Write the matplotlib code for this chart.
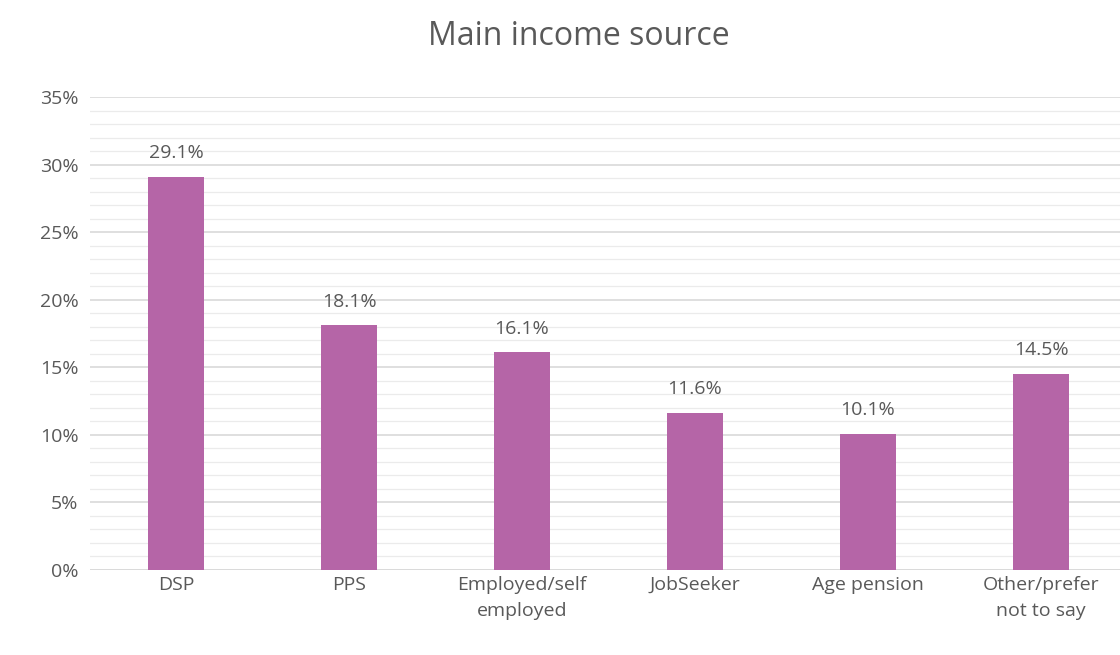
import numpy as np
import matplotlib.pyplot as plt
from matplotlib.ticker import MultipleLocator, FuncFormatter

categorias = ["DSP", "PPS", "Employed/self\nemployed", "JobSeeker", "Age pension", "Other/prefer\nnot to say"]
valores = [29.1, 18.1, 16.1, 11.6, 10.1, 14.5]

plt.rcParams['font.family'] = ['Open Sans', 'DejaVu Sans']
gris = '#595959'

fig = plt.figure(figsize=(11.2, 6.55), dpi=100)
ax = fig.add_axes([89.5 / 1120, 85 / 655, 1038 / 1120, 473 / 655])

x = np.arange(len(categorias))
ax.bar(x, valores, width=0.32, color='#B565A7', zorder=3)
for xi, v in zip(x, valores):
    ax.text(xi, v + 1.1, f"{v:.1f}%", ha='center', va='bottom', fontsize=14, color=gris)

ax.set_xlim(-0.5, len(categorias) - 0.5)
ax.set_ylim(0, 35)
ax.yaxis.set_major_locator(MultipleLocator(5))
ax.yaxis.set_minor_locator(MultipleLocator(1))
ax.yaxis.set_major_formatter(FuncFormatter(lambda v, p: f"{v:.0f}%"))
ax.grid(axis='y', which='major', color='#D9D9D9', linewidth=1.2, zorder=0)
ax.grid(axis='y', which='minor', color='#EBEBEB', linewidth=0.9, zorder=0)

ax.set_xticks(x)
ax.set_xticklabels(categorias, fontsize=14, color=gris, linespacing=1.6)
ax.tick_params(axis='y', labelsize=14, labelcolor=gris, length=0, pad=8)
ax.tick_params(axis='y', which='minor', length=0)
ax.tick_params(axis='x', length=0, pad=4)
for s in ax.spines.values():
    s.set_visible(False)
ax.axhline(0, color='#D9D9D9', linewidth=1.2, zorder=1)

fig.text(579 / 1120, 0.944, "Main income source", fontsize=23, color=gris, ha='center', va='center')

fig.savefig("out.png", dpi=100)
